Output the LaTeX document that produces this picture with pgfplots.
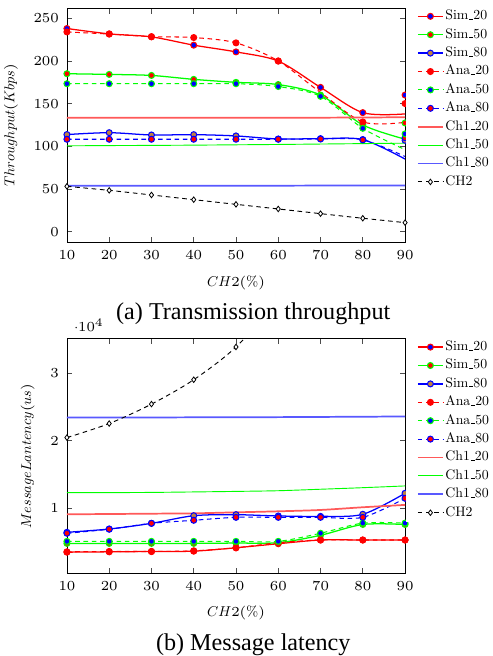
\documentclass[border=0pt]{standalone}
\usepackage{fontspec}
\setmainfont{lmroman10-regular.otf}[ItalicFont=lmroman10-italic.otf, BoldFont=lmroman10-bold.otf]
\newfontfamily\capfont{Liberation Serif}
\DeclareFontShape{OML}{cmm}{m}{it}{<->cmmi10}{}
\DeclareFontShape{OMS}{cmsy}{m}{n}{<->cmsy10}{}
\usepackage{pgfplots}
\pgfplotsset{compat=1.18}

\newcommand{\fs}{\fontsize{6}{7}\selectfont}
\newcommand{\fl}{\fontsize{6.2}{7.4}\selectfont}
% narrow underscore as in the classic OT1 encoding
\newcommand{\us}{\kern.06em\vbox{\hrule width .3em}}

\pgfplotsset{
  myaxis/.style={
    scale only axis, width=147pt, height=102pt,
    xmin=10, xmax=90, xtick={10,20,...,90},
    font=\fs, tick label style={font=\fs}, label style={font=\fl},
    major tick length=2.4pt,
    axis line style={line width=0.35pt},
    every tick/.style={line width=0.3pt, black!70},
    xlabel={$CH2(\%)$},
    legend style={at={(1,1)}, anchor=north west, yshift=0.6pt, draw=none, fill=white,
      font=\fs, inner xsep=5pt, inner ysep=0pt,
      nodes={text height=4.2pt, text depth=1.2pt, inner ysep=1.3pt, inner xsep=0.7pt}},
    legend cell align=left,
    legend image code/.code={\draw[#1, mark indices={2}] plot coordinates {(0pt,0pt) (5.45pt,0pt) (10.9pt,0pt)};},
  },
  sim20/.style={red, line width=0.55pt, smooth, mark=*, mark size=1.3pt, mark options={draw=red, fill=blue, line width=0.45pt, solid}},
  sim50/.style={green, line width=0.55pt, smooth, mark=*, mark size=1.3pt, mark options={draw=green, fill=red, line width=0.45pt, solid}},
  sim80/.style={blue, line width=0.55pt, smooth, mark=*, mark size=1.3pt, mark options={draw=blue, fill=brown, line width=0.45pt, solid}},
  ana20/.style={red, line width=0.45pt, smooth, dash pattern=on 2pt off 1.6pt, mark=*, mark size=1.3pt, mark options={draw=red, fill=red, line width=0.45pt, solid}},
  ana50/.style={green, line width=0.45pt, smooth, dash pattern=on 2pt off 1.6pt, mark=*, mark size=1.3pt, mark options={draw=green, fill=blue, line width=0.45pt, solid}},
  ana80/.style={blue, line width=0.45pt, smooth, dash pattern=on 2pt off 1.6pt, mark=*, mark size=1.3pt, mark options={draw=blue, fill=red, line width=0.45pt, solid}},
  ch120/.style={red!65, line width=0.75pt, smooth, no marks},
  ch150/.style={green, line width=0.4pt, smooth, no marks},
  ch180/.style={blue!65, line width=0.75pt, smooth, no marks},
  ch2/.style={black, line width=0.4pt, dash pattern=on 2pt off 1.6pt, smooth, mark=diamond*, mark size=1.2pt, mark options={fill=white, solid, line width=0.35pt}},
}

\begin{document}
\begin{tikzpicture}
% top: throughput
\begin{axis}[myaxis, name=top, at={(0pt,0pt)}, anchor=south west,
  ymin=-13, ymax=262, ytick={0,50,...,250},
  ylabel={$Throughput(Kbps)$}]
\addplot[sim20, mark indices={1,2,3,4,5,6,7,8}] coordinates {(10,238) (20,231.7) (30,228.2) (40,218.5) (50,210.6) (60,199.8) (70,169) (80,139.4) (90,137.9)};
\addlegendentry{Sim\us20}
\addplot[sim50, mark indices={1,2,3,4,5,6,7,8}] coordinates {(10,185) (20,184.2) (30,183) (40,178.4) (50,174.9) (60,172.3) (70,160) (80,125) (90,108.3)};
\addlegendentry{Sim\us50}
\addplot[sim80, mark indices={1,2,3,4,5,6,7,8}] coordinates {(10,113.7) (20,115.9) (30,113.2) (40,113.6) (50,112.1) (60,108.5) (70,108.9) (80,107.8) (90,85)};
\addlegendentry{Sim\us80}
\addplot[ana20, mark indices={1,2,3,4,5,6,8}] coordinates {(10,234) (20,231.5) (30,228.5) (40,227.4) (50,221.2) (60,200) (70,163) (80,128.5) (90,128)};
\addlegendentry{Ana\us20}
\addplot[ana50, mark indices={1,2,3,4,5,6,7,8}] coordinates {(10,173.3) (20,173.3) (30,173.3) (40,173.3) (50,173.3) (60,170) (70,158.5) (80,121) (90,96)};
\addlegendentry{Ana\us50}
\addplot[ana80, mark indices={1,2,3,4,5,6,7,8}] coordinates {(10,108.2) (20,108.2) (30,108.2) (40,108.2) (50,108.2) (60,108.2) (70,108.5) (80,107.5) (90,88)};
\addlegendentry{Ana\us80}
\addplot[ch120] coordinates {(10,133.5) (20,133.5) (30,133.4) (40,133.4) (50,133.3) (60,133.4) (70,133.5) (80,133.7) (90,134)};
\addlegendentry{Ch1\us20}
\addplot[ch150] coordinates {(10,100.5) (20,100.8) (30,101) (40,101.3) (50,101.7) (60,102.1) (70,102.6) (80,103.1) (90,103.6)};
\addlegendentry{Ch1\us50}
\addplot[ch180] coordinates {(10,53.7) (20,53.7) (30,53.7) (40,53.8) (50,53.8) (60,53.8) (70,53.9) (80,53.9) (90,54)};
\addlegendentry{Ch1\us80}
\addplot[ch2] coordinates {(10,53) (20,48.3) (30,42.9) (40,37.4) (50,31.9) (60,26.5) (70,21) (80,15.6) (90,10.5)};
\addlegendentry{CH2}
% end markers at x = 90
\addplot[sim80, only marks, forget plot] coordinates {(90,107)};
\addplot[ana80, only marks, forget plot] coordinates {(90,110)};
\addplot[ana50, only marks, forget plot] coordinates {(90,114.5)};
\addplot[sim50, only marks, forget plot] coordinates {(90,127.3)};
\addplot[ana20, only marks, forget plot] coordinates {(90,150)};
\addplot[sim20, only marks, forget plot] coordinates {(90,160)};
\end{axis}
\node[font=\capfont\fontsize{10.5}{12}\selectfont] at (81pt,-31pt) {(a) Transmission throughput};

% bottom: latency
\begin{axis}[myaxis, name=bot, at={(0pt,-143.8pt)}, anchor=south west,
  ymin=350, ymax=35100, ytick={10000,20000,30000},
  scaled y ticks=base 10:-4,
  ylabel={$MessageLantency(us)$}]
\addplot[sim20] coordinates {(10,3500) (20,3550) (30,3600) (40,3650) (50,4150) (60,4750) (70,5300) (80,5300) (90,5300)};
\addlegendentry{Sim\us20}
\addplot[sim50] coordinates {(10,4800) (20,4800) (30,4800) (40,4800) (50,4850) (60,4900) (70,6000) (80,7600) (90,7600)};
\addlegendentry{Sim\us50}
\addplot[sim80] coordinates {(10,6440) (20,6930) (30,7770) (40,8900) (50,9050) (60,8860) (70,8800) (80,9110) (90,12220)};
\addlegendentry{Sim\us80}
\addplot[ana20] coordinates {(10,3550) (20,3600) (30,3600) (40,3700) (50,4150) (60,4900) (70,5300) (80,5300) (90,5300)};
\addlegendentry{Ana\us20}
\addplot[ana50] coordinates {(10,5100) (20,5100) (30,5100) (40,5100) (50,5100) (60,5100) (70,6300) (80,7800) (90,7800)};
\addlegendentry{Ana\us50}
\addplot[ana80] coordinates {(10,6300) (20,6900) (30,7770) (40,8220) (50,8660) (60,8660) (70,8660) (80,8660) (90,11480)};
\addlegendentry{Ana\us80}
\addplot[ch120] coordinates {(10,9110) (20,9150) (30,9200) (40,9250) (50,9400) (60,9550) (70,9750) (80,10150) (90,10500)};
\addlegendentry{Ch1\us20}
\addplot[ch150] coordinates {(10,12320) (20,12320) (30,12350) (40,12420) (50,12500) (60,12600) (70,12820) (80,13050) (90,13310)};
\addlegendentry{Ch1\us50}
\addplot[ch180] coordinates {(10,23440) (20,23440) (30,23450) (40,23470) (50,23480) (60,23500) (70,23530) (80,23560) (90,23600)};
\addlegendentry{Ch1\us80}
\addplot[ch2] coordinates {(10,20470) (20,22550) (30,25430) (40,29040) (50,33890) (60,41000) (70,50000) (80,60000) (90,70000)};
\addlegendentry{CH2}
\end{axis}
\node[font=\capfont\fontsize{10.5}{12}\selectfont] at (81pt,-174.8pt) {(b) Message latency};

\pgfresetboundingbox
\path (-29.1pt,105.5pt) rectangle (185.2pt,-179.7pt);
\end{tikzpicture}
\end{document}
